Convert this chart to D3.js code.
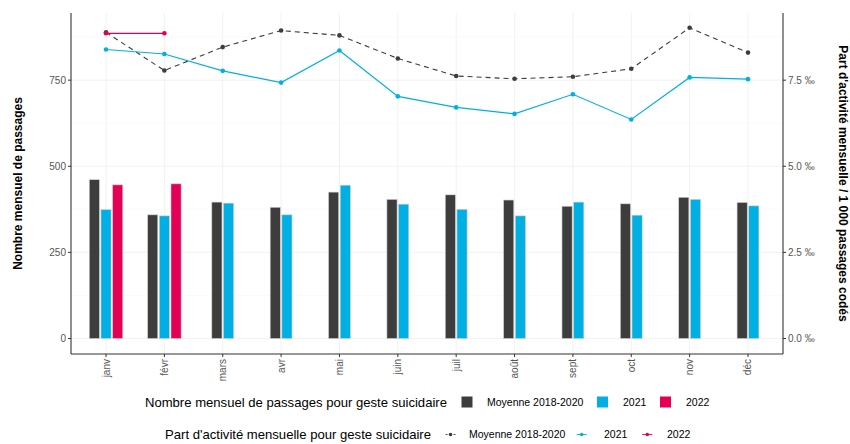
<!DOCTYPE html>
<html>
<head>
<meta charset="utf-8">
<script src="https://cdn.jsdelivr.net/npm/d3@7"></script>
<style>
  body { margin: 0; background: #fff; }
  svg { font-family: "Liberation Sans", Arial, sans-serif; }
</style>
</head>
<body>
<svg id="chart" width="850" height="444"></svg>
<script>
// months
const months = ["janv", "févr", "mars", "avr", "mai", "juin", "juil", "août", "sept", "oct", "nov", "déc"];

// monthly number of visits (left axis)
const passMoy = [461, 359, 396, 381, 425, 404, 417, 402, 384, 391, 410, 395];
const pass2021 = [374, 356, 393, 359, 445, 390, 375, 356, 396, 358, 404, 385];
const pass2022 = [446, 449];

// share of activity, per 1000 coded visits (right axis)
const partMoy = [8.89, 7.78, 8.46, 8.94, 8.80, 8.13, 7.62, 7.54, 7.60, 7.83, 9.02, 8.30];
const part2021 = [8.39, 8.26, 7.77, 7.43, 8.36, 7.03, 6.71, 6.52, 7.09, 6.36, 7.58, 7.53];
const part2022 = [8.86, 8.86];

const leftTicks = [0, 250, 500, 750];
const minorTicks = [125, 375, 625, 875];
const rightTicks = [0, 2.5, 5, 7.5];

const seriesNames = ["Moyenne 2018-2020", "2021", "2022"];
const colors = ["#3d3d3d", "#00afe3", "#e40054"];

const svg = d3.select("#chart");
const pLeft = 71, pRight = 783, pTop = 13, pBottom = 354;

const x = d3.scalePoint().domain(months).range([pLeft, pRight]).padding(0.6);
const y = d3.scaleLinear().domain([-45, 945]).range([pBottom, pTop]);
const y2 = d3.scaleLinear().domain([-0.45, 9.45]).range([pBottom, pTop]);

// grid
const grid = svg.append("g");
grid.selectAll(".minor").data(minorTicks).enter().append("line")
  .attr("x1", pLeft).attr("x2", pRight)
  .attr("y1", d => y(d)).attr("y2", d => y(d))
  .attr("stroke", "#f7f7f7").attr("stroke-width", 0.6);
grid.selectAll(".major").data(leftTicks).enter().append("line")
  .attr("x1", pLeft).attr("x2", pRight)
  .attr("y1", d => y(d)).attr("y2", d => y(d))
  .attr("stroke", "#efefef").attr("stroke-width", 0.8);
grid.selectAll(".vert").data(months).enter().append("line")
  .attr("x1", d => x(d)).attr("x2", d => x(d))
  .attr("y1", pTop).attr("y2", pBottom)
  .attr("stroke", "#efefef").attr("stroke-width", 0.8);

// bars, dodged per month
const step = x.step();
const slot = step * 0.2;
const barW = slot * 0.87;
const barData = [];
months.forEach((m, i) => {
  const vals = [passMoy[i], pass2021[i], pass2022[i]];
  const present = vals.map((v, k) => ({ v, k })).filter(d => d.v !== undefined);
  present.forEach((d, j) => {
    const offset = (j - (present.length - 1) / 2) * slot;
    barData.push({ m, v: d.v, k: d.k, cx: x(m) + offset });
  });
});

svg.append("g").selectAll("rect").data(barData).enter().append("rect")
  .attr("x", d => d.cx - barW / 2)
  .attr("width", barW)
  .attr("y", d => y(d.v))
  .attr("height", d => y(0) - y(d.v))
  .attr("fill", d => colors[d.k])
  .attr("stroke", "#d0d0d0")
  .attr("stroke-width", 0.6);

// lines
const lineSeries = [partMoy, part2021, part2022];
const line = d3.line().x((d, i) => x(months[i])).y(d => y2(d));
lineSeries.forEach((s, k) => {
  svg.append("path")
    .datum(s)
    .attr("d", line)
    .attr("fill", "none")
    .attr("stroke", colors[k])
    .attr("stroke-width", k === 0 ? 1.1 : 1.2)
    .attr("stroke-dasharray", k === 0 ? "5,4" : null);
  svg.append("g").selectAll("circle").data(s).enter().append("circle")
    .attr("cx", (d, i) => x(months[i]))
    .attr("cy", d => y2(d))
    .attr("r", 2.3)
    .attr("fill", colors[k]);
});

// axes
const axisColor = "#333";
const tickColor = "#555";
svg.append("line").attr("x1", pLeft).attr("x2", pLeft).attr("y1", pTop).attr("y2", pBottom)
  .attr("stroke", axisColor).attr("stroke-width", 1.1);
svg.append("line").attr("x1", pRight).attr("x2", pRight).attr("y1", pTop).attr("y2", pBottom)
  .attr("stroke", axisColor).attr("stroke-width", 1.1);
svg.append("line").attr("x1", pLeft).attr("x2", pRight).attr("y1", pBottom).attr("y2", pBottom)
  .attr("stroke", axisColor).attr("stroke-width", 1.1);

const yl = svg.append("g");
yl.selectAll("line").data(leftTicks).enter().append("line")
  .attr("x1", pLeft - 3).attr("x2", pLeft).attr("y1", d => y(d)).attr("y2", d => y(d))
  .attr("stroke", axisColor);
yl.selectAll("text").data(leftTicks).enter().append("text")
  .attr("x", pLeft - 5).attr("y", d => y(d)).attr("dy", "0.35em")
  .attr("text-anchor", "end").attr("font-size", 10).attr("fill", tickColor)
  .text(d => d);

const yr = svg.append("g");
yr.selectAll("line").data(rightTicks).enter().append("line")
  .attr("x1", pRight).attr("x2", pRight + 3).attr("y1", d => y2(d)).attr("y2", d => y2(d))
  .attr("stroke", axisColor);
yr.selectAll("text").data(rightTicks).enter().append("text")
  .attr("x", pRight + 5).attr("y", d => y2(d)).attr("dy", "0.35em")
  .attr("font-size", 10).attr("fill", tickColor)
  .text(d => d3.format(".1f")(d) + " ‰");

const xa = svg.append("g");
xa.selectAll("line").data(months).enter().append("line")
  .attr("x1", d => x(d)).attr("x2", d => x(d)).attr("y1", pBottom).attr("y2", pBottom + 3)
  .attr("stroke", axisColor);
xa.selectAll("text").data(months).enter().append("text")
  .attr("transform", d => `translate(${x(d) + 3.5},${pBottom + 5}) rotate(-90)`)
  .attr("text-anchor", "end")
  .attr("font-size", 10).attr("fill", tickColor)
  .text(d => d);

// axis titles
svg.append("text")
  .attr("transform", `translate(22,${(pTop + pBottom) / 2}) rotate(-90)`)
  .attr("text-anchor", "middle").attr("font-size", 12).attr("font-weight", "bold")
  .text("Nombre mensuel de passages");
svg.append("text")
  .attr("transform", `translate(839,${(pTop + pBottom) / 2}) rotate(90)`)
  .attr("text-anchor", "middle").attr("font-size", 12).attr("font-weight", "bold")
  .text("Part d'activité mensuelle / 1 000 passages codés");

// legend 1: bars
const lg1 = svg.append("g").attr("transform", "translate(0,402)");
lg1.append("text").attr("x", 447).attr("dy", "0.35em").attr("font-size", 13.1)
  .attr("text-anchor", "end")
  .text("Nombre mensuel de passages pour geste suicidaire");
const lg1x = [461.5, 597, 660];
const lg1tx = [487, 623, 686];
seriesNames.forEach((n, k) => {
  lg1.append("rect").attr("x", lg1x[k]).attr("y", -5.5).attr("width", 11).attr("height", 11)
    .attr("fill", colors[k]);
  lg1.append("text").attr("x", lg1tx[k]).attr("dy", "0.35em").attr("font-size", 10.5).text(n);
});

// legend 2: lines
const lg2 = svg.append("g").attr("transform", "translate(0,434.5)");
lg2.append("text").attr("x", 431).attr("dy", "0.35em").attr("font-size", 13.1)
  .attr("text-anchor", "end")
  .text("Part d'activité mensuelle pour geste suicidaire");
const lg2x = [450.5, 581.7, 647.3];
const lg2tx = [469, 604, 667];
seriesNames.forEach((n, k) => {
  lg2.append("line").attr("x1", lg2x[k] - 5).attr("x2", lg2x[k] + 5).attr("y1", 0).attr("y2", 0)
    .attr("stroke", colors[k]).attr("stroke-width", 0.9)
    .attr("stroke-dasharray", k === 0 ? "2,2" : null);
  lg2.append("circle").attr("cx", lg2x[k]).attr("cy", 0).attr("r", 1.8).attr("fill", colors[k]);
  lg2.append("text").attr("x", lg2tx[k]).attr("dy", "0.35em").attr("font-size", 10.5).text(n);
});
</script>
</body>
</html>
